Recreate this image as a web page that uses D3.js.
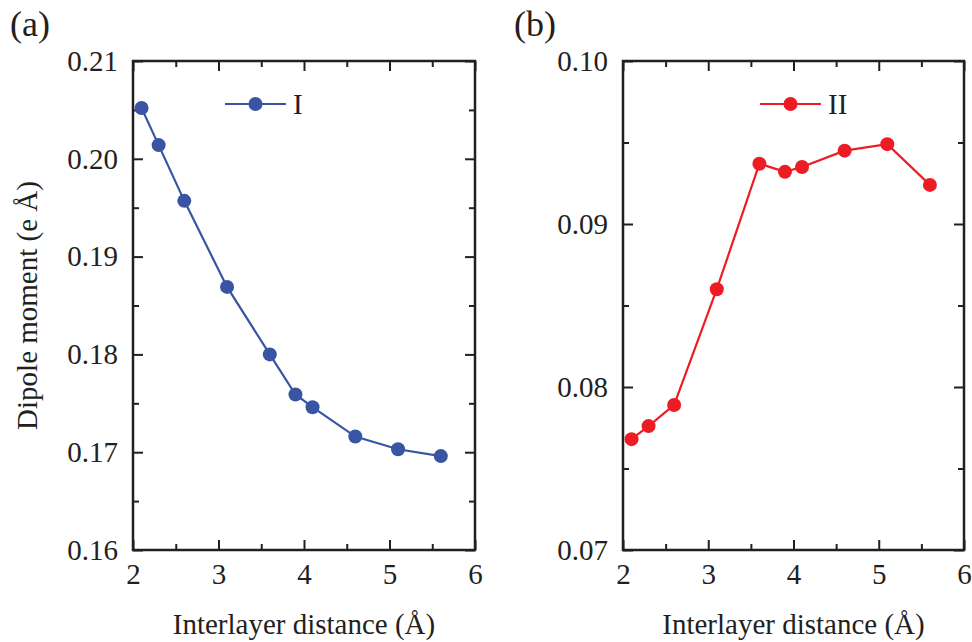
<!DOCTYPE html>
<html>
<head>
<meta charset="utf-8">
<script src="https://cdn.jsdelivr.net/npm/d3@7"></script>
<style>
  html, body { margin: 0; padding: 0; background: #fff; }
  svg text { font-family: "Liberation Serif", "Times New Roman", serif; fill: #231f20; }
</style>
</head>
<body>
<svg id="chart" width="972" height="642"></svg>
<script>
// Interlayer distances (Å)
const distances = [2.1, 2.3, 2.6, 3.1, 3.6, 3.9, 4.1, 4.6, 5.1, 5.6];
// Dipole moment (e Å) for configuration I
const dipoleI = [0.2052, 0.2014, 0.1957, 0.1869, 0.1800, 0.1759, 0.1746, 0.1716, 0.1703, 0.1696];
// Dipole moment (e Å) for configuration II
const dipoleII = [0.0768, 0.0776, 0.0789, 0.0860, 0.0937, 0.0932, 0.0935, 0.0945, 0.0949, 0.0924];

const xTicks = [2, 3, 4, 5, 6];
const yTicksI = [0.16, 0.17, 0.18, 0.19, 0.20, 0.21];
const yTicksII = [0.07, 0.08, 0.09, 0.10];

const svg = d3.select("#chart");
const plotTop = 61, plotBottom = 550;
const fontSize = 29;

const panels = [
  { tag: "(a)", tagX: 10, left: 133, right: 475, values: dipoleI, yDomain: [0.16, 0.21],
    yTicks: yTicksI, color: "#3a54a4", name: "I", legendX: 225, showYTitle: true },
  { tag: "(b)", tagX: 514, left: 623, right: 964, values: dipoleII, yDomain: [0.07, 0.10],
    yTicks: yTicksII, color: "#ed1c24", name: "II", legendX: 760, showYTitle: false }
];

const ink = "#231f20";
const styleTicks = s => {
  s.select(".domain").remove();
  s.selectAll("line").attr("stroke", ink).attr("stroke-width", 2);
};

panels.forEach(p => {
  const x = d3.scaleLinear().domain([2, 6]).range([p.left, p.right]);
  const y = d3.scaleLinear().domain(p.yDomain).range([plotBottom, plotTop]);
  const g = svg.append("g");

  const xMinor = [2.5, 3.5, 4.5, 5.5];
  const yMinor = p.yTicks.slice(0, -1).map(v => v + 0.005);
  const fmt = d3.format(".2f");

  // Bottom axis: labels with inward major/minor ticks
  const ga = g.append("g").attr("transform", `translate(0,${plotBottom})`)
    .call(d3.axisBottom(x).tickValues(xTicks).tickFormat(d3.format("d")).tickSize(-10).tickPadding(13))
    .call(styleTicks);
  ga.selectAll(".tick text").attr("font-size", fontSize).attr("fill", ink)
    .attr("font-family", "Liberation Serif");
  g.append("g").attr("transform", `translate(0,${plotBottom})`)
    .call(d3.axisBottom(x).tickValues(xMinor).tickSize(-6).tickFormat(""))
    .call(styleTicks);

  // Top axis: ticks only
  [[xTicks, 10], [xMinor, 6]].forEach(([vals, len]) => {
    g.append("g").attr("transform", `translate(0,${plotTop})`)
      .call(d3.axisTop(x).tickValues(vals).tickSize(-len).tickFormat(""))
      .call(styleTicks);
  });

  // Left axis with labels
  const gl = g.append("g").attr("transform", `translate(${p.left},0)`)
    .call(d3.axisLeft(y).tickValues(p.yTicks).tickFormat(fmt).tickSize(-10).tickPadding(15))
    .call(styleTicks);
  gl.selectAll(".tick text").attr("font-size", fontSize).attr("fill", ink)
    .attr("font-family", "Liberation Serif");
  g.append("g").attr("transform", `translate(${p.left},0)`)
    .call(d3.axisLeft(y).tickValues(yMinor).tickSize(-6).tickFormat(""))
    .call(styleTicks);

  // Right axis: ticks only
  [[p.yTicks, 10], [yMinor, 6]].forEach(([vals, len]) => {
    g.append("g").attr("transform", `translate(${p.right},0)`)
      .call(d3.axisRight(y).tickValues(vals).tickSize(-len).tickFormat(""))
      .call(styleTicks);
  });

  // Frame
  g.append("rect").attr("x", p.left).attr("y", plotTop)
    .attr("width", p.right - p.left).attr("height", plotBottom - plotTop)
    .attr("fill", "none").attr("stroke", ink).attr("stroke-width", 2.5);

  // Data line and markers
  const pts = distances.map((d, i) => [d, p.values[i]]);
  g.append("path").datum(pts)
    .attr("fill", "none").attr("stroke", p.color).attr("stroke-width", 2.2)
    .attr("d", d3.line().x(d => x(d[0])).y(d => y(d[1])));
  g.selectAll("circle.pt").data(pts).join("circle").attr("class", "pt")
    .attr("cx", d => x(d[0])).attr("cy", d => y(d[1])).attr("r", 7)
    .attr("fill", p.color);

  // Legend
  const ly = 104;
  g.append("line").attr("x1", p.legendX).attr("x2", p.legendX + 61)
    .attr("y1", ly).attr("y2", ly).attr("stroke", p.color).attr("stroke-width", 2.2);
  g.append("circle").attr("cx", p.legendX + 30.5).attr("cy", ly).attr("r", 7).attr("fill", p.color);
  g.append("text").attr("x", p.legendX + 68).attr("y", ly + 10)
    .attr("font-size", fontSize).text(p.name);

  // Panel tag
  svg.append("text").attr("x", p.tagX).attr("y", 36).attr("font-size", 36).text(p.tag);

  // Axis titles
  svg.append("text").attr("x", (p.left + p.right) / 2).attr("y", 634)
    .attr("text-anchor", "middle").attr("font-size", fontSize).text("Interlayer distance (Å)");
  if (p.showYTitle) {
    svg.append("text").attr("transform", `translate(37,${(plotTop + plotBottom) / 2}) rotate(-90)`)
      .attr("text-anchor", "middle").attr("font-size", fontSize).text("Dipole moment (e Å)");
  }
});
</script>
</body>
</html>
